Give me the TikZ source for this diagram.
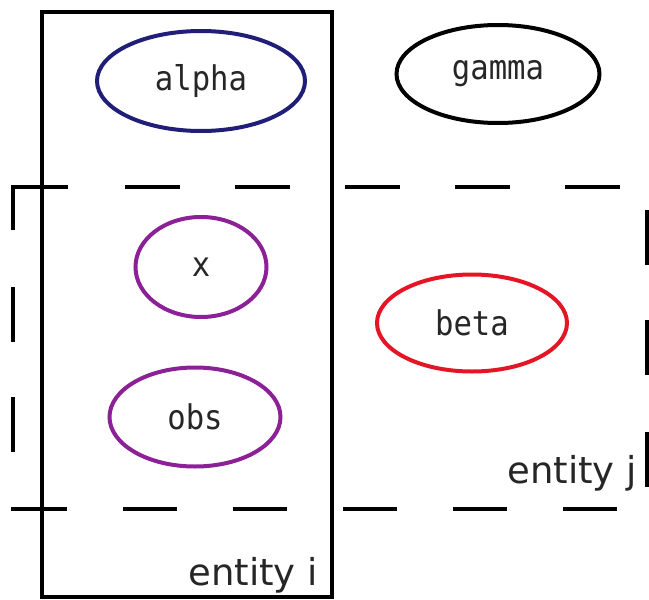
\documentclass[tikz,border=0pt]{standalone}
\usepackage{fontspec}
\setsansfont{DejaVu Sans}
\newfontfamily\varfont[FakeStretch=0.9]{DejaVu Sans Mono}
\usetikzlibrary{shapes.geometric}
\definecolor{navyline}{RGB}{32,30,120}
\definecolor{purpleline}{RGB}{140,32,150}
\definecolor{redline}{RGB}{228,22,38}
\tikzset{
  var/.style={ellipse, draw, line width=4pt, inner sep=0pt,
    font=\varfont\fontsize{34}{34}\selectfont, text=black!85},
  plate/.style={draw=black, line width=4pt},
  platedash/.style={draw=black, line width=4pt, line cap=butt},
  platelabel/.style={font=\sffamily\fontsize{37}{37}\selectfont, text=black!85, inner sep=0pt}
}
\begin{document}
\begin{tikzpicture}[x=1pt, y=-1pt]
  \useasboundingbox (0,0) rectangle (649,600);

  % entity j plate (dashed outline)
  \draw[platedash, line join=miter] (13,230) -- (13,187) -- (68,187);
  \foreach \a/\b in {125/180, 235/290, 345/400, 455/510, 565/620}
    \draw[platedash] (\a,187) -- (\b,187);
  \foreach \a/\b in {11/67, 123/177, 233/287, 343/397, 453/507, 563/617}
    \draw[platedash] (\a,509) -- (\b,509);
  \foreach \a/\b in {287/342, 397/452}
    \draw[platedash] (13,\a) -- (13,\b);
  \foreach \a/\b in {210/265, 320/375, 432/487}
    \draw[platedash] (647,\a) -- (647,\b);
  \node[platelabel, anchor=base east] (labj) at (637,483) {entity j};

  % entity i plate (solid outline)
  \draw[plate] (42,12) rectangle (332,597);
  \node[platelabel, anchor=base east] (labi) at (318,585) {entity i};

  % variables
  \node[var, draw=navyline, minimum width=208pt, minimum height=100pt] (alpha) at (201,81) {alpha};
  \node[var, draw=black, minimum width=203pt, minimum height=98pt] (gamma) at (498,74) {gamma};
  \node[var, draw=purpleline, minimum width=131pt, minimum height=100pt] (x) at (201,267) {x};
  \node[var, draw=purpleline, minimum width=171pt, minimum height=99pt] (obs) at (195,417) {obs};
  \node[var, draw=redline, minimum width=190pt, minimum height=97pt] (beta) at (472,323) {beta};
\end{tikzpicture}
\end{document}
